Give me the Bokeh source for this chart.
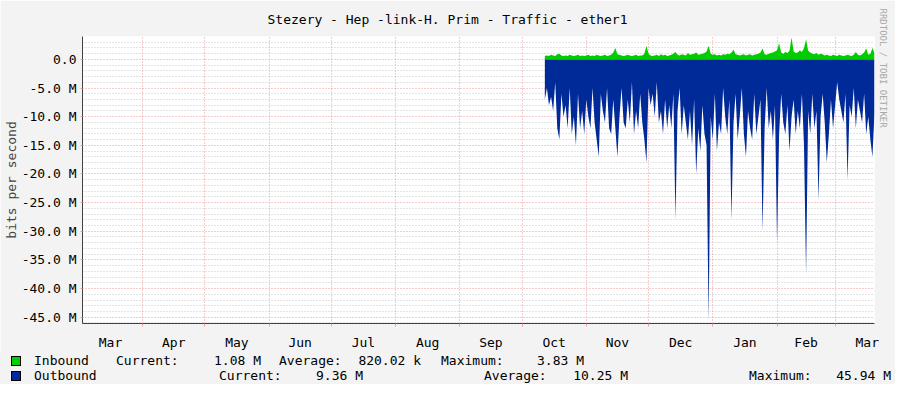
import pandas as pd
from bokeh.plotting import figure
from bokeh.layouts import column
from bokeh.models import Range1d, FixedTicker, DatetimeTickFormatter, Title, Div
from bokeh.embed import file_html
from bokeh.resources import INLINE

# ---------------- data ----------------
title_text = "Stezery - Hep -link-H. Prim - Traffic - ether1"
y_axis_title = "bits per second"
credit_text = "RRDTOOL / TOBI OETIKER"

view_start = "2018-03-03"
view_end = "2019-03-20"
data_start = "2018-10-12"

month_starts = ["2018-03-01", "2018-04-01", "2018-05-01", "2018-06-01", "2018-07-01",
                "2018-08-01", "2018-09-01", "2018-10-01", "2018-11-01", "2018-12-01",
                "2019-01-01", "2019-02-01", "2019-03-01", "2019-04-01"]
month_labels = ["Mar", "Apr", "May", "Jun", "Jul", "Aug", "Sep", "Oct", "Nov",
                "Dec", "Jan", "Feb", "Mar"]

y_ticks = [0, -5, -10, -15, -20, -25, -30, -35, -40, -45]
y_tick_labels = ["0.0", "-5.0 M", "-10.0 M", "-15.0 M", "-20.0 M", "-25.0 M",
                 "-30.0 M", "-35.0 M", "-40.0 M", "-45.0 M"]
y_min, y_max = -46.1, 4.0

# daily values in Mbit/s, from data_start
inbound = [0.6, 0.7, 0.6, 0.8, 0.7, 0.6, 0.9, 1.0, 0.7, 0.6,
           0.7, 0.6, 0.8, 0.7, 0.6, 0.7, 0.8, 0.6, 0.7, 0.6,
           0.7, 0.8, 0.6, 0.7, 0.6, 0.8, 0.7, 0.6, 0.7, 0.8,
           0.6, 0.7, 0.8, 1.2, 2.0, 0.9, 0.8, 0.7, 0.6, 0.7,
           0.8, 0.7, 0.6, 0.7, 0.8, 0.6, 0.7, 0.7, 1.0, 2.4,
           1.0, 0.7, 0.6, 0.7, 0.8, 0.6, 0.9, 0.7, 0.8, 0.6,
           0.7, 0.8, 1.0, 1.3, 0.8, 0.7, 0.9, 0.8, 0.7, 1.1,
           0.8, 0.9, 1.0, 1.2, 0.8, 0.9, 1.0, 1.1, 1.4, 2.4,
           1.0, 0.8, 0.9, 0.7, 0.8, 0.7, 0.9, 0.8, 1.0, 0.9,
           1.2, 1.7, 0.9, 0.8, 0.7, 0.8, 0.9, 0.7, 0.8, 0.9,
           0.7, 0.8, 0.9, 1.0, 1.2, 1.9, 0.9, 0.8, 1.0, 1.1,
           1.2, 1.4, 1.6, 2.8, 1.2, 1.0, 1.3, 1.1, 1.5, 3.83,
           1.4, 1.1, 1.2, 1.6, 1.3, 2.0, 3.5, 1.5, 1.2, 1.0,
           0.9, 1.1, 0.8, 1.0, 0.9, 0.7, 0.8, 0.7, 0.6, 0.8,
           0.7, 0.6, 0.8, 0.7, 0.6, 0.7, 0.8, 0.7, 0.6, 0.8,
           1.3, 0.8, 0.7, 0.9, 1.2, 1.9, 0.8, 1.0, 2.0, 1.08]
outbound = [7, 5, 8, 6.5, 9, 4, 12, 14, 6, 10,
            8, 12, 5, 13, 10, 15, 6, 12, 9, 13,
            7, 10, 12, 5, 11, 14, 17, 6, 9, 11,
            5, 12, 13, 7, 12, 17, 10, 5, 11, 12,
            7, 11, 4, 13, 9, 12, 6, 11, 14, 18,
            5, 8, 6, 10, 4, 11, 9, 13, 7, 12,
            8, 12, 6, 28, 9, 5, 13, 8, 11, 14,
            9, 15, 7, 20, 12, 16, 8, 13, 15, 45.94,
            10, 14, 6, 16, 11, 13, 5, 10, 13, 7,
            28, 11, 6, 14, 10, 5, 13, 17, 9, 12,
            14, 6, 13, 10, 7, 30, 12, 5, 12, 9,
            14, 8, 32, 13, 6, 11, 13, 8, 16, 10,
            7, 13, 9, 12, 6, 15, 37.5, 9, 13, 6,
            12, 9, 24.5, 10, 6, 11, 18, 13, 7, 12,
            8, 4, 7, 9, 11, 6, 21, 8, 10, 5,
            12, 7, 9, 11, 6, 13, 10, 14, 17, 9.36]

legend_names = ["Inbound", "Outbound"]
legend_colors = ["#00CC00", "#002A97"]
inbound_stats = ["1.08 M", "820.02 k", "3.83 M"]
outbound_stats = ["9.36 M", "10.25 M", "45.94 M"]

# ---------------- helpers ----------------
def ms(s):
    return pd.Timestamp(s).value / 1e6

dates = pd.date_range(data_start, periods=len(inbound), freq="D")
out_neg = [-v for v in outbound]
grid_pos = [ms(s) for s in month_starts]
label_pos = [(a + b) / 2 for a, b in zip(grid_pos[:-1], grid_pos[1:])]

FONT = "DejaVu Sans Mono"
BG = "#F3F3F3"
W = 895
H1, H2 = 352, 32
L, R, T, B = 81, 21, 35, 22

p = figure(width=W, height=H1, x_axis_type="datetime",
           x_range=Range1d(ms(view_start), ms(view_end)),
           y_range=Range1d(y_min, y_max),
           output_backend="svg", toolbar_location=None,
           min_border_left=L, min_border_right=R, min_border_top=T, min_border_bottom=B,
           background_fill_color="white", border_fill_color=BG,
           outline_line_color=None)

p.title.text = title_text
p.title.align = "left"
p.title.offset = 185
p.title.text_font = FONT
p.title.text_font_size = "13px"
p.title.text_font_style = "normal"
p.title.text_color = "black"
p.title.standoff = 19

p.add_layout(Title(text=credit_text, align="left", offset=-28, standoff=6,
                   text_font=FONT, text_font_size="9px", text_font_style="normal",
                   text_color="#A8A8A8"), "right")

p.varea(x=dates, y1=0, y2=inbound, fill_color=legend_colors[0])
p.varea(x=dates, y1=0, y2=out_neg, fill_color=legend_colors[1])

# x axis
xa = p.xaxis[0]
xa.ticker = FixedTicker(ticks=label_pos, minor_ticks=grid_pos)
xa.formatter = DatetimeTickFormatter(microseconds="%b", milliseconds="%b", seconds="%b",
                                     minsec="%b", minutes="%b", hourmin="%b", hours="%b",
                                     days="%b", months="%b", years="%b")
xa.major_label_overrides = {pos: lab for pos, lab in zip(label_pos, month_labels)}
xa.major_tick_line_color = None
xa.minor_tick_in = 0
xa.minor_tick_out = 3
xa.minor_tick_line_color = "#F0A0A0"
xa.axis_line_color = "#404040"
xa.major_label_text_font = FONT
xa.major_label_text_font_size = "13px"
xa.major_label_text_color = "black"
xa.major_label_standoff = 5

p.xgrid.ticker = FixedTicker(ticks=grid_pos)
p.xgrid.grid_line_color = "#E88080"
p.xgrid.grid_line_alpha = 0.8
p.xgrid.grid_line_dash = "1 2"

# y axis
minor_y = [v for v in range(-46, 5) if v % 5 != 0]
ya = p.yaxis[0]
ya.ticker = FixedTicker(ticks=y_ticks, minor_ticks=minor_y)
ya.major_label_overrides = {t: s for t, s in zip(y_ticks, y_tick_labels)}
ya.major_tick_in = 0
ya.major_tick_out = 2
ya.major_tick_line_color = "#F0A0A0"
ya.minor_tick_line_color = None
ya.axis_line_color = "#404040"
ya.major_label_text_font = FONT
ya.major_label_text_font_size = "13px"
ya.major_label_text_color = "black"
ya.major_label_standoff = 2
ya.axis_label = y_axis_title
ya.axis_label_text_font = FONT
ya.axis_label_text_font_size = "13px"
ya.axis_label_text_font_style = "normal"
ya.axis_label_standoff = 0

p.ygrid.grid_line_color = "#E88080"
p.ygrid.grid_line_alpha = 0.8
p.ygrid.grid_line_dash = "1 2"
p.ygrid.minor_grid_line_color = "#BBBBBB"
p.ygrid.minor_grid_line_alpha = 0.8
p.ygrid.minor_grid_line_dash = "1 2"

# ---------------- legend strip (HTML text) ----------------
row_top = [1, 16]
items = []


def span_left(x, top, txt):
    return (f'<span style="position:absolute;left:{x}px;top:{top}px;'
            f'line-height:16px;white-space:pre;">{txt}</span>')


def span_right(x, top, txt):
    return (f'<span style="position:absolute;right:{W - x}px;top:{top}px;'
            f'line-height:16px;white-space:pre;">{txt}</span>')


for i, (name, col) in enumerate(zip(legend_names, legend_colors)):
    items.append(f'<span style="position:absolute;left:11px;top:{row_top[i] + 3}px;'
                 f'width:10px;height:10px;box-sizing:border-box;'
                 f'border:1px solid #000;background:{col};"></span>')
    items.append(span_left(34, row_top[i], name))

lefts = [(116, 0, "Current:"), (279, 0, "Average:"), (441, 0, "Maximum:"),
         (219, 1, "Current:"), (484, 1, "Average:"), (749, 1, "Maximum:")]
rights = [(261, 0, inbound_stats[0]), (421, 0, inbound_stats[1]), (584, 0, inbound_stats[2]),
          (363, 1, outbound_stats[0]), (628, 1, outbound_stats[1]), (891, 1, outbound_stats[2])]
for x, r, t in lefts:
    items.append(span_left(x, row_top[r], t))
for x, r, t in rights:
    items.append(span_right(x, row_top[r], t))

html = (f'<div style="position:relative;width:{W}px;height:{H2}px;background:{BG};'
        f'font-family:\'{FONT}\';font-size:13px;color:#000;overflow:hidden;">'
        + "".join(items) + '</div>')
legend = Div(text=html, width=W, height=H2, margin=0,
             styles={"background-color": BG})

layout = column(p, legend, spacing=0)
open("out.html", "w").write(file_html(layout, INLINE))
